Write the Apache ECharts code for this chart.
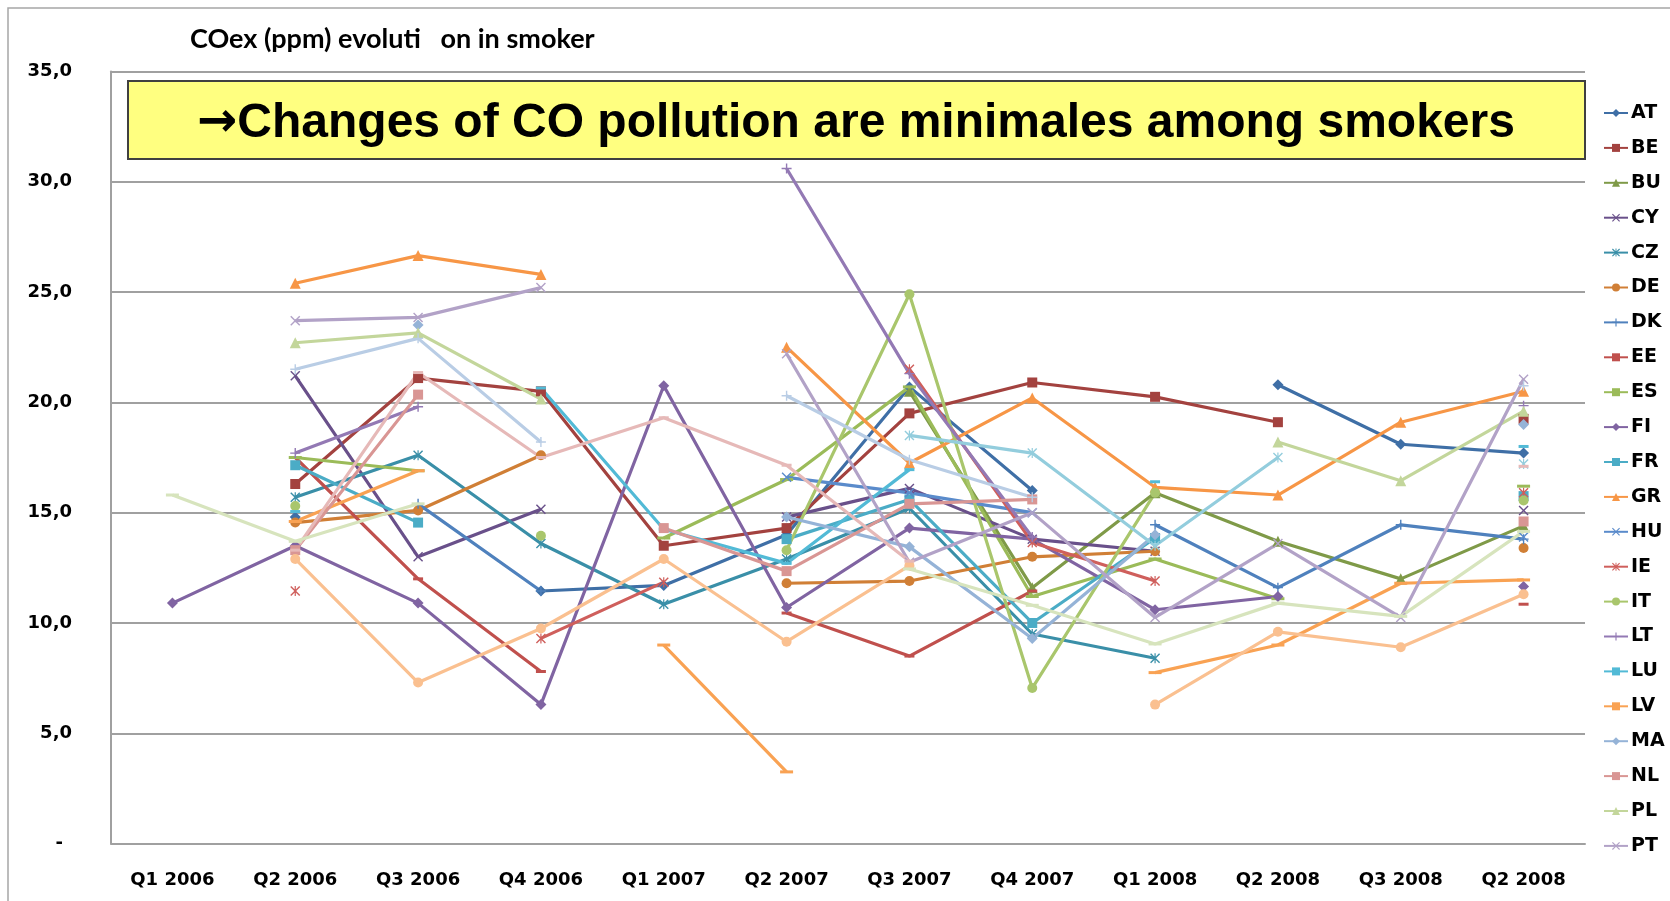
<!DOCTYPE html>
<html>
<head>
<meta charset="utf-8">
<script src="https://cdn.jsdelivr.net/npm/echarts@6/dist/echarts.min.js"></script>
<style>
html,body{margin:0;padding:0;background:#fff;}
#chart{width:1670px;height:901px;}
</style>
</head>
<body>
<div id="chart"></div>
<script>
const categories = ['Q1 2006','Q2 2006','Q3 2006','Q4 2006','Q1 2007','Q2 2007','Q3 2007','Q4 2007','Q1 2008','Q2 2008','Q3 2008','Q2 2008'];
const legendNames = ['AT','BE','BU','CY','CZ','DE','DK','EE','ES','FI','FR','GR','HU','IE','IT','LT','LU','LV','MA','NL','PL','PT'];

const AT = [null, 14.8, null, 11.45, 11.7, 14.0, 20.7, 16.0, null, 20.8, 18.1, 17.7];
const BE = [null, 16.3, 21.1, 20.5, 13.5, 14.3, 19.5, 20.9, 20.25, 19.1, null, 19.25];
const BU = [null, null, null, null, null, null, 20.5, 11.6, 15.9, 13.7, 12.0, 14.4];
const CY = [null, 21.2, 13.0, 15.15, null, 14.8, 16.1, 13.8, 13.25, null, null, 15.1];
const CZ = [null, 15.7, 17.6, 13.6, 10.85, 12.9, 15.2, 9.5, 8.4, null, null, null];
const DE = [null, 14.55, 15.1, 17.6, null, 11.8, 11.9, 13.0, 13.25, null, null, 13.4];
const DK = [null, null, 15.4, 11.45, null, null, null, null, 14.45, 11.6, 14.45, 13.8];
const EE = [null, 17.5, 12.0, 7.8, null, 10.45, 8.5, 11.45, null, null, null, 10.85];
const ES = [null, 17.5, 16.9, null, 13.85, 16.5, 20.7, 11.2, 12.9, 11.1, null, 16.2];
const FI = [10.9, 13.5, 10.9, 6.3, 20.75, 10.7, 14.3, 13.8, 10.6, 11.2, null, 11.65];
const FR = [null, 17.15, 14.55, null, null, 13.8, 15.6, 10.0, 13.85, null, null, 15.75];
const GR = [null, 25.4, 26.65, 25.8, null, 22.5, 17.25, 20.2, 16.15, 15.8, 19.1, 20.5];
const HU = [null, null, null, null, null, 16.6, 15.9, 15.0, null, null, null, 13.9];
const IE = [null, 11.45, null, 9.3, 11.85, null, 21.5, 13.65, 11.9, null, null, 15.9];
const IT = [null, 15.3, null, 13.95, null, 13.3, 24.9, 7.05, 15.9, null, null, 15.55];
const LT = [null, 17.7, 19.8, null, null, 30.6, 21.3, 13.9, null, null, null, 19.85];
const LU = [null, 15.05, null, 20.65, 14.25, 12.7, 16.95, null, 16.4, null, null, 18.0];
const LV = [null, 14.6, 16.9, null, 9.0, 3.25, null, null, 7.75, 9.0, 11.8, 11.95];
const MA = [null, null, 23.5, null, null, 14.8, 13.45, 9.3, 14.0, null, null, 19.0];
const NL = [null, 13.3, 20.35, null, 14.3, 12.35, 15.4, 15.6, null, null, null, 14.6];
const PL = [null, 22.7, 23.15, 20.15, null, null, null, null, null, 18.2, 16.45, 19.6];
const PT = [null, 23.7, 23.85, 25.2, null, 22.2, 12.75, 15.0, 10.25, 13.6, 10.25, 21.05];
const S23 = [null, null, null, null, null, null, 18.5, 17.7, 13.5, 17.5, null, 17.2];
const S24 = [null, 12.9, 7.3, 9.75, 12.9, 9.15, 12.6, null, 6.3, 9.6, 8.9, 11.3];
const S25 = [null, 21.5, 22.9, 18.2, null, 20.3, 17.4, 15.7, null, null, null, 20.75];
const S26 = [null, 13.3, 21.35, 17.5, 19.3, 17.15, 12.8, null, null, null, null, 17.1];
const S27 = [15.8, 13.7, 15.4, null, null, null, 12.45, 10.8, 9.05, 10.9, 10.3, 14.15];

const seriesData = [AT,BE,BU,CY,CZ,DE,DK,EE,ES,FI,FR,GR,HU,IE,IT,LT,LU,LV,MA,NL,PL,PT,S23,S24,S25,S26,S27];
const seriesNames = legendNames.concat(['s23','s24','s25','s26','s27']);
const colors = ['#3F6FA6','#A3423F','#7F9A48','#69508A','#3A8FA8','#D07F36',
                '#4F81BD','#C0504D','#9BBB59','#8064A2','#4BACC6','#F79646',
                '#5A8BCB','#CF5F5C','#A9C66C','#9379B4','#52BAD6','#F9A253',
                '#95B3D7','#D99694','#C3D69B','#B2A2C7','#93CDDD','#FAC090',
                '#B9CDE5','#E6B9B8','#D7E4BD'];

const SYM_X = 'path://M1,0L5,4L9,0L10,1L6,5L10,9L9,10L5,6L1,10L0,9L4,5L0,1Z';
const SYM_PLUS = 'path://M4.3,0H5.7V4.3H10V5.7H5.7V10H4.3V5.7H0V4.3H4.3Z';
const SYM_STAR = 'path://M1,0L5,4L9,0L10,1L6,5L10,9L9,10L5,6L1,10L0,9L4,5L0,1Z M4.4,0H5.6V10H4.4Z';
const markers = [
  ['diamond', 11], ['rect', 10], ['triangle', 11], [SYM_X, 10], [SYM_STAR, 10],
  ['circle', 10], [SYM_PLUS, 10], ['rect', [10, 3]], ['rect', [13, 3]]
];

const series = seriesData.map((d, i) => {
  const m = markers[i % 9];
  return {
    name: seriesNames[i],
    type: 'line',
    data: d,
    connectNulls: false,
    showAllSymbol: true,
    symbol: m[0],
    symbolSize: m[1],
    lineStyle: {color: colors[i], width: 3.2},
    itemStyle: {color: colors[i], borderWidth: 0},
    emphasis: {disabled: true}
  };
});

const chart = echarts.init(document.getElementById('chart'), null, {renderer: 'canvas'});
chart.setOption({
  animation: false,
  backgroundColor: '#ffffff',
  grid: {left: 111, right: 85, top: 71.4, bottom: 57.4, containLabel: false},
  xAxis: {
    type: 'category',
    data: categories,
    boundaryGap: true,
    axisLine: {lineStyle: {color: '#A0A0A0', width: 2}},
    axisTick: {show: false},
    axisLabel: {interval: 0, margin: 28, color: '#000', fontFamily: 'DejaVu Sans', fontWeight: 'bold', fontSize: 18}
  },
  yAxis: {
    type: 'value',
    min: 0, max: 35, interval: 5,
    axisLine: {show: true, lineStyle: {color: '#A0A0A0', width: 2}},
    axisTick: {show: false},
    splitLine: {lineStyle: {color: '#A0A0A0', width: 2}},
    axisLabel: {
      margin: 39, color: '#000', fontFamily: 'DejaVu Sans', fontWeight: 'bold', fontSize: 18,
      formatter: v => v === 0 ? '-\u2002' : v.toFixed(1).replace('.', ',')
    }
  },
  legend: {
    orient: 'vertical',
    left: 1603, top: 103,
    padding: 0,
    data: legendNames,
    itemWidth: 24, itemHeight: 10,
    itemGap: 14.9,
    textStyle: {color: '#000', fontFamily: 'DejaVu Sans', fontWeight: 'bold', fontSize: 19, lineHeight: 20, padding: [0,0,0,-2]},
    selectedMode: false
  },
  graphic: [
    {type: 'rect', shape: {x: 8, y: 8, width: 1700, height: 1000}, style: {fill: 'none', stroke: '#A6A6A6', lineWidth: 1.5}, silent: true, z: -10},
    {type: 'text', x: 190, y: 39, style: {text: 'COex (ppm) evoluti   on in smoker', font: 'bold 27px Lato', fill: '#000', textVerticalAlign: 'middle'}},
    {type: 'rect', shape: {x: 128, y: 81, width: 1457, height: 78}, style: {fill: '#FFFF80', stroke: '#404040', lineWidth: 2}, z: 100},
    {type: 'text', x: 856, y: 124, z: 101, style: {
      text: '{a|\u2192}{b|Changes of CO pollution are minimales among smokers}',
      textAlign: 'center', textVerticalAlign: 'middle',
      rich: {
        a: {font: 'bold 48px "DejaVu Sans"', fill: '#000'},
        b: {font: 'bold 48px "Liberation Sans"', fill: '#000'}
      }
    }}
  ],
  series: series
});
</script>
</body>
</html>
